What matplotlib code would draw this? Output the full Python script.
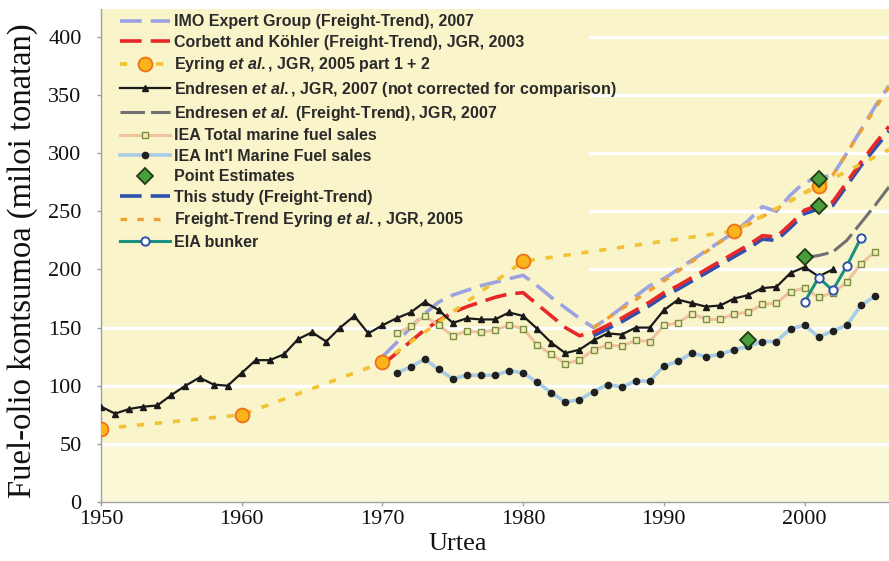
import matplotlib
matplotlib.use("Agg")
import matplotlib.pyplot as plt
import numpy as np

# ---------------- data ----------------
end_years = list(range(1950, 2003))
end_vals = [82, 76, 80, 82, 83, 92, 100, 107, 101, 100,
            111, 122, 122, 127, 140, 146, 138, 150, 160, 145,
            152, 158, 163, 172, 165, 154, 158, 157, 157, 163,
            160, 149, 137, 128, 131, 139, 145, 144, 150, 150,
            165, 174, 171, 168, 169, 175, 178, 184, 185, 197,
            202, 194, 200]

iea_tot_years = list(range(1971, 2006))
iea_tot_vals = [145, 151, 160, 152, 143, 147, 146, 148, 152, 149,
                135, 127, 119, 122, 131, 135, 134, 139, 138, 152,
                154, 162, 157, 157, 162, 163, 170, 171, 181, 184,
                176, 180, 189, 205, 215]

iea_int_years = list(range(1971, 2006))
iea_int_vals = [111, 116, 123, 114, 106, 109, 109, 109, 113, 111,
                103, 94, 86, 88, 95, 101, 99, 104, 104, 117,
                121, 128, 125, 127, 131, 134, 138, 138, 149, 152,
                142, 147, 152, 169, 177]

eia_years = [2000, 2001, 2002, 2003, 2004]
eia_vals = [172, 193, 182, 203, 227]

pt_years = [1996, 2000, 2001, 2001]
pt_vals = [139, 211, 255, 278]

imo_years = list(range(1970, 2007))
imo_vals = [125, 137, 150, 162, 172, 178, 182, 186, 189, 192,
            195, 186, 176, 167, 158, 150, 158, 167, 177, 186,
            192, 200, 208, 216, 224, 232, 242, 254, 250, 264,
            275, 279, 281, 300, 320, 340, 358]

corb_years = list(range(1970, 2007))
corb_vals = [118, 128, 138, 148, 156, 163, 168, 172, 176, 179,
             180, 170, 160, 150, 143, 146, 152, 158, 165, 172,
             180, 186, 193, 200, 207, 214, 221, 229, 228, 239,
             251, 255, 258, 275, 292, 308, 323]

study_years = list(range(1985, 2007))
study_vals = [143, 149, 155, 162, 169, 177, 183, 190, 197, 204,
              211, 218, 226, 225, 236, 248, 252, 255, 272, 289,
              304, 319]

endft_years = [2000, 2001, 2002, 2003, 2004, 2005, 2006]
endft_vals = [210, 212, 215, 225, 240, 255, 271]

eyr_years = [1950, 1960, 1970, 1980, 1995, 2001, 2006]
eyr_vals = [63, 75, 120, 207, 233, 272, 303]
eyr_marked = [True, True, True, True, True, True, False]

fte_years = [1985, 1990, 1995, 1998, 2001, 2002, 2006]
fte_vals = [150, 190, 232, 252, 273, 281, 357]

xticks = [1950, 1960, 1970, 1980, 1990, 2000]
yticks = [0, 50, 100, 150, 200, 250, 300, 350, 400]

# ---------------- style ----------------
plt.rcParams['mathtext.fontset'] = 'custom'
plt.rcParams['mathtext.rm'] = 'Liberation Sans:bold'
plt.rcParams['mathtext.it'] = 'Liberation Sans:italic:bold'

bg = '#f9f4c9'
bg_low = '#fbf8d8'
fig = plt.figure(figsize=(8.89, 5.61), dpi=100)
ax = fig.add_axes([101 / 889, 59 / 561, 788 / 889, 493 / 561])
ax.set_facecolor(bg)
ax.set_xlim(1950, 2006)
ax.set_ylim(0, 424)
ax.axhspan(0, 50, color=bg_low, lw=0, zorder=0.2)

# white grid lines (partially hidden behind the legend area in the original)
for yv in yticks[1:]:
    xmin = 0.0 if yv <= 150 else 0.62
    ax.axhline(yv, xmin=xmin, xmax=1, color='white', lw=2.5, zorder=0.5)

lw_d = 2.6
l_imo, = ax.plot(imo_years, imo_vals, color='#9da3e0', lw=lw_d, dashes=(6, 2.5), zorder=3,
                 label='IMO Expert Group (Freight-Trend), 2007')
l_study, = ax.plot(study_years, study_vals, color='#3050b0', lw=lw_d, dashes=(6, 2.5), zorder=3.1,
                   label='This study (Freight-Trend)')
l_corb, = ax.plot(corb_years, corb_vals, color='#e82828', lw=lw_d, dashes=(6, 2.5), zorder=3.2,
                  label='Corbett and Köhler (Freight-Trend), JGR, 2003')
l_fte, = ax.plot(fte_years, fte_vals, color='#f0a030', lw=2.4, dashes=(2, 3), zorder=3.3,
                 label=r'Freight-Trend Eyring $et\ al.$, JGR, 2005')
l_endft, = ax.plot(endft_years, endft_vals, color='#707070', lw=2.2, dashes=(8, 2), zorder=3,
                   label=r'Endresen $et\ al.$ (Freight-Trend), JGR, 2007')

l_eyr, = ax.plot(eyr_years, eyr_vals, color='#f2c230', lw=2.6, dashes=(2, 3), zorder=3.4,
                 marker='o', markevery=eyr_marked, markersize=10, markerfacecolor='#fbb41c',
                 markeredgecolor='#f07018', markeredgewidth=1.3,
                 label=r'Eyring $et\ al.$, JGR, 2005 part 1 + 2')

l_end, = ax.plot(end_years, end_vals, color='#1a1a1a', lw=1.6, marker='^', markersize=5,
                 zorder=4, label=r'Endresen $et\ al.$, JGR, 2007 (not corrected for comparison)')
l_ieat, = ax.plot(iea_tot_years, iea_tot_vals, color='#f2c2a0', lw=2.2, marker='s', markersize=5,
                  markerfacecolor='#f4ecb8', markeredgecolor='#7a9040', markeredgewidth=1.0,
                  zorder=3.8, label='IEA Total marine fuel sales')
l_ieai, = ax.plot(iea_int_years, iea_int_vals, color='#a8cce8', lw=2.6, marker='o', markersize=4.5,
                  markerfacecolor='#202020', markeredgecolor='#202020',
                  zorder=3.8, label="IEA Int'l Marine Fuel sales")
l_eia, = ax.plot(eia_years, eia_vals, color='#1a9080', lw=2.2, marker='o', markersize=6,
                 markerfacecolor='white', markeredgecolor='#3050a8', markeredgewidth=1.4,
                 zorder=4.2, label='EIA bunker')
l_pt, = ax.plot(pt_years, pt_vals, linestyle='none', marker='D', markersize=8,
                markerfacecolor='#4a9e3a', markeredgecolor='#1e3a18', markeredgewidth=1.3,
                zorder=5, label='Point Estimates')

handles = [l_imo, l_corb, l_eyr, l_end, l_endft, l_ieat, l_ieai, l_pt, l_study, l_fte, l_eia]
leg = ax.legend(handles=handles, loc='upper left', bbox_to_anchor=(0.01, 1.012),
                frameon=False, handlelength=3.1, handletextpad=0.3, labelspacing=0.34,
                borderaxespad=0.3,
                prop={'family': 'Liberation Sans', 'size': 11.5, 'weight': 'bold'})
for t in leg.get_texts():
    t.set_color('#2a2a2a')

# axes styling
for s in ['top', 'right']:
    ax.spines[s].set_visible(False)
for s in ['left', 'bottom']:
    ax.spines[s].set_color('#a0a0a0')
    ax.spines[s].set_linewidth(1.0)
ax.set_xticks(xticks)
ax.set_yticks(yticks)
ax.tick_params(axis='both', colors='#a0a0a0', length=3, width=1.0,
               labelcolor='#111111', labelsize=16)
ax.tick_params(axis='y', pad=11)
ax.tick_params(axis='x', pad=3)
for lab in ax.get_xticklabels() + ax.get_yticklabels():
    lab.set_family('Liberation Serif')

ax.set_xlabel('Urtea', family='Liberation Serif', fontsize=19, color='#111111')
ax.xaxis.set_label_coords((458 - 101) / 788, -0.062)
ax.set_ylabel('Fuel-olio kontsumoa (miloi tonatan)', family='Liberation Serif',
              fontsize=23.5, color='#111111')
ax.yaxis.set_label_coords(-0.08, 0.49)

fig.savefig('out.png', dpi=100)
